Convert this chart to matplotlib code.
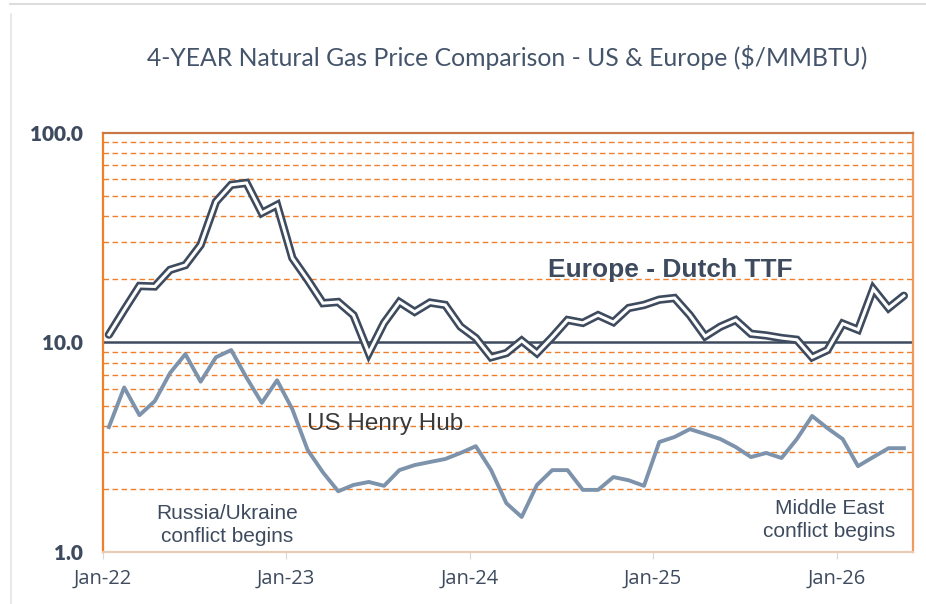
import matplotlib.pyplot as plt
import numpy as np
from matplotlib.lines import Line2D

# monthly values, Jan-2022 .. May-2026 ($/MMBTU)
europe_ttf = [10.9, 14.3, 18.6, 18.5, 22.2, 23.4, 29.2, 46.9, 56.5, 57.7, 41.5, 45.3,
              25.3, 19.9, 15.4, 15.6, 13.5, 8.9, 12.4, 15.6, 14.0, 15.5, 15.1, 11.9,
              10.5, 8.5, 8.9, 10.2, 8.9, 10.6, 12.8, 12.4, 13.5, 12.5, 14.6, 15.1,
              16.0, 16.3, 13.5, 10.7, 11.9, 12.8, 11.0, 10.8, 10.5, 10.3, 8.5, 9.2,
              12.3, 11.5, 18.0, 14.6, 16.7]
us_henry_hub = [3.95, 6.1, 4.5, 5.25, 7.15, 8.8, 6.5, 8.5, 9.2, 6.8, 5.15, 6.6,
                4.8, 3.07, 2.4, 1.95, 2.09, 2.16, 2.07, 2.46, 2.6, 2.69, 2.78, 2.97,
                3.2, 2.46, 1.71, 1.47, 2.09, 2.46, 2.46, 1.98, 1.98, 2.28, 2.2, 2.07,
                3.35, 3.54, 3.86, 3.66, 3.46, 3.17, 2.84, 2.97, 2.81, 3.46, 4.46, 3.9,
                3.46, 2.57, 2.84, 3.13, 3.13]
year_labels = ['Jan-22', 'Jan-23', 'Jan-24', 'Jan-25', 'Jan-26']
y_ticks = [1, 10, 100]
y_labels = ['1.0', '10.0', '100.0']

months = np.arange(len(europe_ttf)) + 0.4
dark = '#3e4b5e'
us_col = '#7d92ab'
orange = '#f07f2c'
arial = 'Liberation Sans'

fig = plt.figure(figsize=(9.26, 6.04), dpi=100)
ax = fig.add_axes([0.111, 0.086, 0.875, 0.694])

ax.set_yscale('log')
ax.set_ylim(1, 100)
ax.set_xlim(0, 53)

# dashed orange gridlines on the minor ticks
for dec in [1, 10]:
    for m in range(2, 10):
        ax.axhline(m * dec, color=orange, lw=1.0, ls=(0, (4, 2.5)), zorder=1)
ax.axhline(10, color=dark, lw=1.8, zorder=2)

# Europe: double line (dark outline, white core)
ax.plot(months, europe_ttf, color=dark, lw=6, solid_joinstyle='miter', solid_capstyle='round', zorder=3)
ax.plot(months, europe_ttf, color='white', lw=2.2, solid_joinstyle='miter', zorder=4)
ax.plot(months, us_henry_hub, color=us_col, lw=2.8, zorder=3)

ax.set_yticks(y_ticks)
ax.set_yticklabels(y_labels, fontsize=15, fontweight='heavy', color=dark, fontfamily='Lato')
ax.yaxis.set_minor_locator(plt.NullLocator())
ax.tick_params(axis='y', length=0, pad=14)
ax.set_xticks([0, 12, 24, 36, 48])
ax.set_xticklabels(year_labels, fontsize=14.5, color='#3e4b5e', fontfamily='Open Sans')
ax.tick_params(axis='x', length=5, color='#d8d8d8', pad=7)

ax.spines['left'].set_color(orange)
ax.spines['right'].set_color('#f09a5c')
ax.spines['top'].set_color('#c87848')
ax.spines['bottom'].set_color('#e8cdb4')
for s in ax.spines.values():
    s.set_linewidth(1.6)

ax.text(0.550, 0.673, 'Europe - Dutch TTF', transform=ax.transAxes, fontsize=19,
        fontweight='bold', color=dark, ha='left', va='center', fontfamily=arial)
ax.text(0.252, 0.305, 'US Henry Hub', transform=ax.transAxes, fontsize=17.5,
        color='#3a3a3a', ha='left', va='center', fontfamily=arial)
ax.text(0.154, 0.064, 'Russia/Ukraine\nconflict begins', transform=ax.transAxes,
        fontsize=15, color=dark, ha='center', va='center', linespacing=1.3, fontfamily=arial)
ax.text(0.897, 0.076, 'Middle East\nconflict begins', transform=ax.transAxes,
        fontsize=15, color=dark, ha='center', va='center', linespacing=1.3, fontfamily=arial)

fig.text(0.548, 0.905, '4-YEAR Natural Gas Price Comparison - US & Europe ($/MMBTU)',
         fontsize=17.8, color='#44546a', ha='center', va='center', fontfamily='Lato')

# thin grey frame bits at the top and left of the picture
fig.add_artist(Line2D([10 / 926, 1], [1 - 4 / 604] * 2, color='#dddddd', lw=1.5))
fig.add_artist(Line2D([11 / 926] * 2, [0, 1 - 14 / 604], color='#e4e4e4', lw=1.2))

fig.savefig('out.png', dpi=100)
